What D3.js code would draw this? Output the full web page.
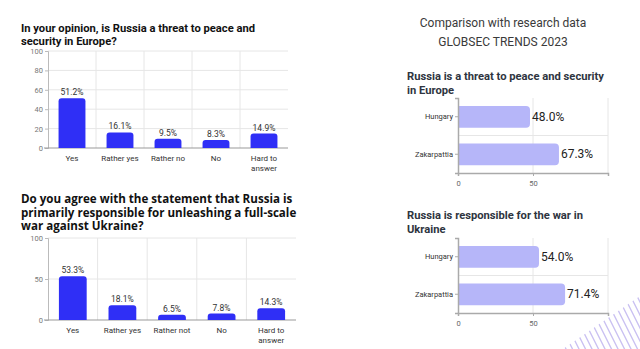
<!DOCTYPE html>
<html>
<head>
<meta charset="utf-8">
<script src="https://cdn.jsdelivr.net/npm/d3@7"></script>
<style>
  html, body { margin: 0; padding: 0; background: #fff; }
  svg { display: block; font-family: Roboto, sans-serif; }
</style>
</head>
<body>
<svg id="chart" width="640" height="349"></svg>
<script>
// survey answers (left)
const threatCategories = ['Yes', 'Rather yes', 'Rather no', 'No', 'Hard to answer'];
const threatValues = [51.2, 16.1, 9.5, 8.3, 14.9];
const threatTicks = [0, 20, 40, 60, 80, 100];

const warCategories = ['Yes', 'Rather yes', 'Rather not', 'No', 'Hard to answer'];
const warValues = [53.3, 18.1, 6.5, 7.8, 14.3];
const warTicks = [0, 50, 100];

// GLOBSEC comparison (right)
const regions = ['Hungary', 'Zakarpattia'];
const globsecThreat = [48.0, 67.3];
const globsecWar = [54.0, 71.4];
const globsecTicks = [0, 50];

const svg = d3.select('#chart');

// wrap "Hard to answer" onto two lines
const splitLabel = s => s === 'Hard to answer' ? ['Hard to', 'answer'] : [s];

function roundedTop(x, y, w, h, r) {
  r = Math.min(r, h, w / 2);
  return `M${x},${y + h}V${y + r}Q${x},${y} ${x + r},${y}H${x + w - r}Q${x + w},${y} ${x + w},${y + r}V${y + h}Z`;
}
function roundedRight(x, y, w, h, r) {
  r = Math.min(r, w, h / 2);
  return `M${x},${y}H${x + w - r}Q${x + w},${y} ${x + w},${y + r}V${y + h - r}Q${x + w},${y + h} ${x + w - r},${y + h}H${x}Z`;
}

function columnChart({ title, titleY, titleFont, titleSize, lineH, cats, vals, ticks, left, right, top, bottom }) {
  const g = svg.append('g');

  const t = g.append('text')
    .attr('x', 21).attr('y', titleY)
    .attr('font-family', titleFont)
    .attr('font-size', titleSize)
    .attr('font-weight', 700)
    .attr('fill', '#111');
  title.forEach((line, i) => t.append('tspan').attr('x', 21).attr('dy', i ? lineH : 0).text(line));

  const x = d3.scaleBand().domain(cats).range([left, right]).paddingInner(0.44).paddingOuter(0.22);
  const y = d3.scaleLinear().domain([0, 100]).range([bottom, top]);

  // horizontal grid
  g.append('g').selectAll('line').data(ticks.slice(1)).join('line')
    .attr('x1', left).attr('x2', right)
    .attr('y1', d => y(d)).attr('y2', d => y(d))
    .attr('stroke', '#e6e6e6');
  // vertical grid at category boundaries
  g.append('g').selectAll('line').data(cats.slice(1)).join('line')
    .attr('x1', d => x(d) - x.step() * x.paddingInner() / 2)
    .attr('x2', d => x(d) - x.step() * x.paddingInner() / 2)
    .attr('y1', top).attr('y2', bottom)
    .attr('stroke', '#e6e6e6');

  const yAxis = d3.axisLeft(y).tickValues(ticks).tickSize(3).tickPadding(2);
  g.append('g').attr('transform', `translate(${left},0)`).call(yAxis)
    .call(a => a.select('.domain').attr('stroke', '#bbb'))
    .call(a => a.selectAll('.tick line').attr('stroke', '#bbb'))
    .call(a => a.selectAll('text').attr('fill', '#777').attr('font-size', 7.5).attr('font-family', 'Roboto'));

  g.append('line').attr('x1', left - 4).attr('x2', right)
    .attr('y1', bottom).attr('y2', bottom).attr('stroke', '#999');

  g.append('g').selectAll('path').data(vals).join('path')
    .attr('d', (d, i) => roundedTop(x(cats[i]), y(d), x.bandwidth(), bottom - y(d), 3))
    .attr('fill', '#2f2ff6');

  g.append('g').selectAll('text').data(vals).join('text')
    .attr('x', (d, i) => x(cats[i]) + x.bandwidth() / 2)
    .attr('y', d => y(d) - 3)
    .attr('text-anchor', 'middle')
    .attr('font-size', 8.5).attr('fill', '#333')
    .text(d => d.toFixed(1) + '%');

  const lbl = g.append('g').selectAll('text').data(cats).join('text')
    .attr('x', d => x(d) + x.bandwidth() / 2)
    .attr('y', bottom + 13)
    .attr('text-anchor', 'middle')
    .attr('font-size', 8).attr('fill', '#333');
  lbl.each(function (d) {
    const parts = splitLabel(d);
    const el = d3.select(this);
    const cx = +el.attr('x');
    parts.forEach((p, i) => el.append('tspan').attr('x', cx).attr('dy', i ? 9.5 : 0).text(p));
  });
}

function barChart({ title, titleY, vals, left, right, top, bottom }) {
  const g = svg.append('g');
  const t = g.append('text')
    .attr('x', 407).attr('y', titleY)
    .attr('font-size', 11.2).attr('font-weight', 700)
    .attr('fill', '#2e3440');
  title.forEach((line, i) => t.append('tspan').attr('x', 407).attr('dy', i ? 13.5 : 0).text(line));

  const x = d3.scaleLinear().domain([0, 100]).range([left, right]);
  const y = d3.scaleBand().domain(regions).range([top, bottom]).paddingInner(0.42).paddingOuter(0.21);

  // grid
  g.append('g').selectAll('line').data([50, 100]).join('line')
    .attr('x1', d => x(d)).attr('x2', d => x(d))
    .attr('y1', top).attr('y2', bottom)
    .attr('stroke', '#e6e6e6');
  g.append('line')
    .attr('x1', left).attr('x2', right)
    .attr('y1', (top + bottom) / 2).attr('y2', (top + bottom) / 2)
    .attr('stroke', '#e6e6e6');

  g.append('g').selectAll('path').data(vals).join('path')
    .attr('d', (d, i) => roundedRight(x(0), y(regions[i]), x(d) - x(0), y.bandwidth(), 4))
    .attr('fill', '#b6b6f9');

  g.append('g').selectAll('text').data(vals).join('text')
    .attr('x', d => x(d) + 2)
    .attr('y', (d, i) => y(regions[i]) + y.bandwidth() / 2 + 4)
    .attr('font-size', 12).attr('fill', '#222')
    .text(d => d.toFixed(1) + '%');

  const yAxis = d3.axisLeft(y).tickSize(3).tickPadding(2);
  g.append('g').attr('transform', `translate(${left},0)`).call(yAxis)
    .call(a => a.select('.domain').attr('stroke', '#aaa').attr('stroke-width', 1.5))
    .call(a => a.selectAll('.tick line').attr('stroke', '#aaa'))
    .call(a => a.selectAll('text').attr('fill', '#333').attr('font-size', 7.5).attr('font-family', 'Roboto'));

  const xAxis = d3.axisBottom(x).tickValues(globsecTicks).tickSize(3).tickPadding(5);
  g.append('g').attr('transform', `translate(0,${bottom})`).call(xAxis)
    .call(a => a.select('.domain').attr('stroke', '#aaa').attr('stroke-width', 1.5))
    .call(a => a.selectAll('.tick line').attr('stroke', '#aaa'))
    .call(a => a.selectAll('text').attr('fill', '#666').attr('font-size', 7.5).attr('font-family', 'Roboto'));
}

columnChart({
  title: ['In your opinion, is Russia a threat to peace and', 'security in Europe?'],
  titleY: 32, titleFont: 'Roboto', titleSize: 11.2, lineH: 13,
  cats: threatCategories, vals: threatValues, ticks: threatTicks,
  left: 48, right: 288, top: 51, bottom: 148
});

columnChart({
  title: ['Do you agree with the statement that Russia is', 'primarily responsible for unleashing a full-scale', 'war against Ukraine?'],
  titleY: 203, titleFont: 'Open Sans', titleSize: 11.6, lineH: 13.5,
  cats: warCategories, vals: warValues, ticks: warTicks,
  left: 48, right: 296, top: 238, bottom: 320
});

// right-hand header
svg.append('text')
  .attr('x', 503).attr('y', 27)
  .attr('text-anchor', 'middle')
  .attr('font-size', 12).attr('fill', '#3a3a3a')
  .call(t => {
    t.append('tspan').attr('x', 503).text('Comparison with research data');
    t.append('tspan').attr('x', 503).attr('dy', 18.5).text('GLOBSEC TRENDS 2023');
  });

barChart({
  title: ['Russia is a threat to peace and security', 'in Europe'],
  titleY: 80, vals: globsecThreat,
  left: 458, right: 608, top: 98, bottom: 173
});

barChart({
  title: ['Russia is responsible for the war in', 'Ukraine'],
  titleY: 219, vals: globsecWar,
  left: 458, right: 608, top: 238, bottom: 313
});

// decorative stripes, bottom-right corner
const deco = svg.append('g');
deco.append('clipPath').attr('id', 'decoClip')
  .append('path').attr('d', 'M563,349L640,296L640,349Z');
deco.append('g').attr('clip-path', 'url(#decoClip)')
  .selectAll('line').data(d3.range(530, 650, 6.5)).join('line')
  .attr('x1', d => d).attr('y1', 290)
  .attr('x2', d => d + 30).attr('y2', 350)
  .attr('stroke', '#c9c0f2').attr('stroke-width', 1.3);
</script>
</body>
</html>
